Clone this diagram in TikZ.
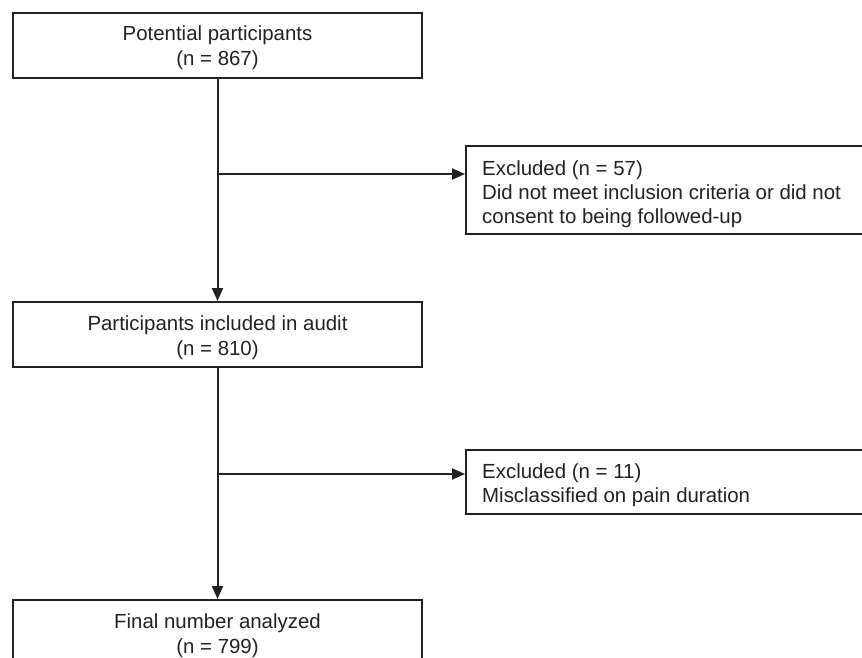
\documentclass[tikz,border=0pt]{standalone}
\usepackage{fontspec}
\setmainfont{Liberation Sans}
\usetikzlibrary{arrows.meta}
\definecolor{ink}{HTML}{222222}
\tikzset{
  boxnode/.style={draw=ink, line width=2bp, rectangle, inner sep=0pt, minimum height=65bp},
  txt/.style={inner sep=0pt, anchor=base, text=ink, font=\fontsize{20.5pt}{25bp}\selectfont},
  ltxt/.style={txt, anchor=base west},
  flow/.style={draw=ink, line width=2bp, -{Triangle[length=13bp,width=11bp]}}
}
\begin{document}
\begin{tikzpicture}[x=1bp,y=-1bp]
\useasboundingbox (0,0) rectangle (862,658);
\clip (0,0) rectangle (862,658);
% boxes
\node[boxnode, minimum width=409bp] (b1) at (217.5,45.5) {};
\node[boxnode, minimum width=434bp, minimum height=88bp] (e1) at (683,190) {};
\node[boxnode, minimum width=409bp] (b2) at (217.5,334.5) {};
\node[boxnode, minimum width=434bp, minimum height=64bp] (e2) at (683,482) {};
\node[boxnode, minimum width=409bp] (b3) at (217.5,632.5) {};
% texts
\node[txt] (t1a) at (217.5,40.7) {Potential participants};
\node[txt] (t1b) at (217.5,65.7) {(n = 867)};
\node[ltxt] (te1a) at (482,175) {Excluded (n = 57)};
\node[ltxt] (te1b) at (482,199.5) {Did not meet inclusion criteria or did not};
\node[ltxt] (te1c) at (482,223) {consent to being followed-up};
\node[txt] (t2a) at (217.5,330) {Participants included in audit};
\node[txt] (t2b) at (217.5,355) {(n = 810)};
\node[ltxt] (te2a) at (482,478) {Excluded (n = 11)};
\node[ltxt] (te2b) at (482,502) {Misclassified on pain duration};
\node[txt] (t3a) at (217.5,628) {Final number analyzed};
\node[txt] (t3b) at (217.5,653) {(n = 799)};
% connectors
\coordinate (j1) at (217.5,174);
\coordinate (j2) at (217.5,474);
\draw[flow] (b1.south) -- (b2.north);
\draw[flow] (b2.south) -- (b3.north);
\draw[flow] (j1) -- (j1 -| e1.west);
\draw[flow] (j2) -- (j2 -| e2.west);
\end{tikzpicture}
\end{document}
